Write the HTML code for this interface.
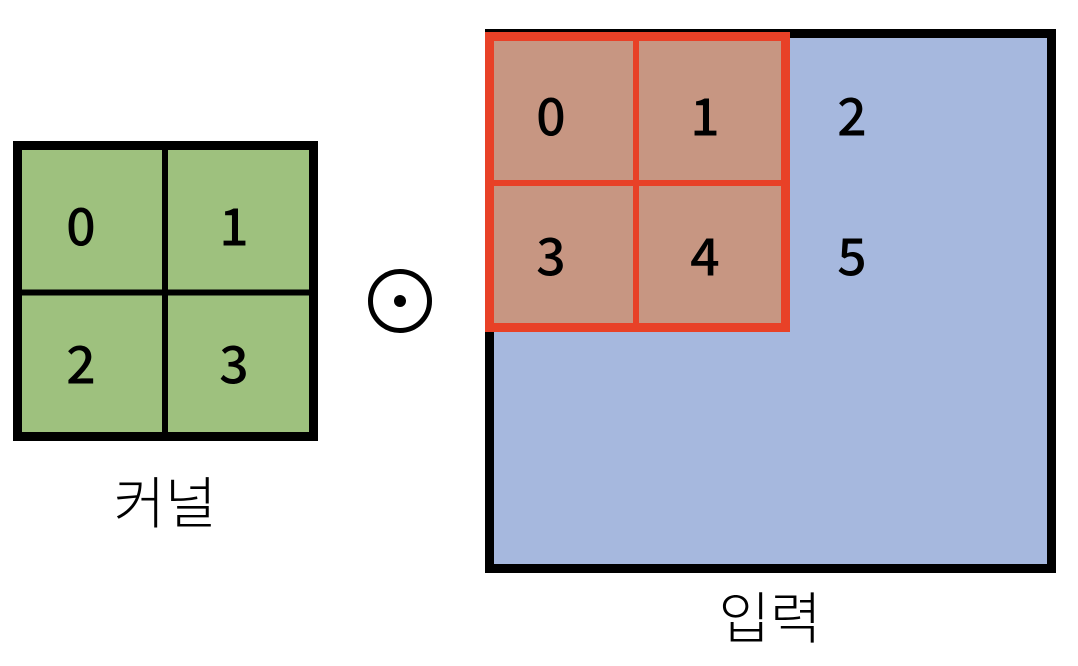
<!DOCTYPE html>
<html><head><meta charset="utf-8"><style>html,body{margin:0;padding:0;background:#fff;width:1078px;height:666px;overflow:hidden}</style></head>
<body>
<svg width="1078" height="666" viewBox="0 0 1078 666" xmlns="http://www.w3.org/2000/svg" font-family="'Noto Sans CJK KR','DejaVu Sans',sans-serif">
<rect x="17.5" y="145.5" width="296" height="291" fill="#9ec17e" stroke="#000" stroke-width="9"/>
<line x1="165" y1="145" x2="165" y2="437" stroke="#000" stroke-width="6"/>
<line x1="17" y1="292.5" x2="314" y2="292.5" stroke="#000" stroke-width="6"/>
<g font-size="52" font-weight="500" fill="#000" text-anchor="middle" dominant-baseline="central">
<text x="81" y="223">0</text><text x="234" y="223">1</text>
<text x="81" y="361">2</text><text x="234" y="361">3</text>
</g>
<circle cx="400" cy="301" r="29.5" fill="none" stroke="#000" stroke-width="5"/>
<circle cx="400" cy="301" r="6" fill="#000"/>
<rect x="489.5" y="33.5" width="562" height="535" fill="#a6b8de" stroke="#000" stroke-width="9"/>
<rect x="489.5" y="36.5" width="296" height="291" fill="#c79682" stroke="#e84127" stroke-width="9"/>
<line x1="636" y1="36" x2="636" y2="328" stroke="#e84127" stroke-width="6"/>
<line x1="489" y1="183" x2="786" y2="183" stroke="#e84127" stroke-width="6"/>
<g font-size="52" font-weight="500" fill="#000" text-anchor="middle" dominant-baseline="central">
<text x="551" y="113">0</text><text x="705" y="113">1</text><text x="852" y="113">2</text>
<text x="551" y="253">3</text><text x="705" y="253">4</text><text x="852" y="253">5</text>
</g>
<g font-size="56" font-weight="300" fill="#000" text-anchor="middle" dominant-baseline="central">
<text x="165" y="500">커널</text>
<text x="770" y="615">입력</text>
</g>
</svg>
</body></html>
